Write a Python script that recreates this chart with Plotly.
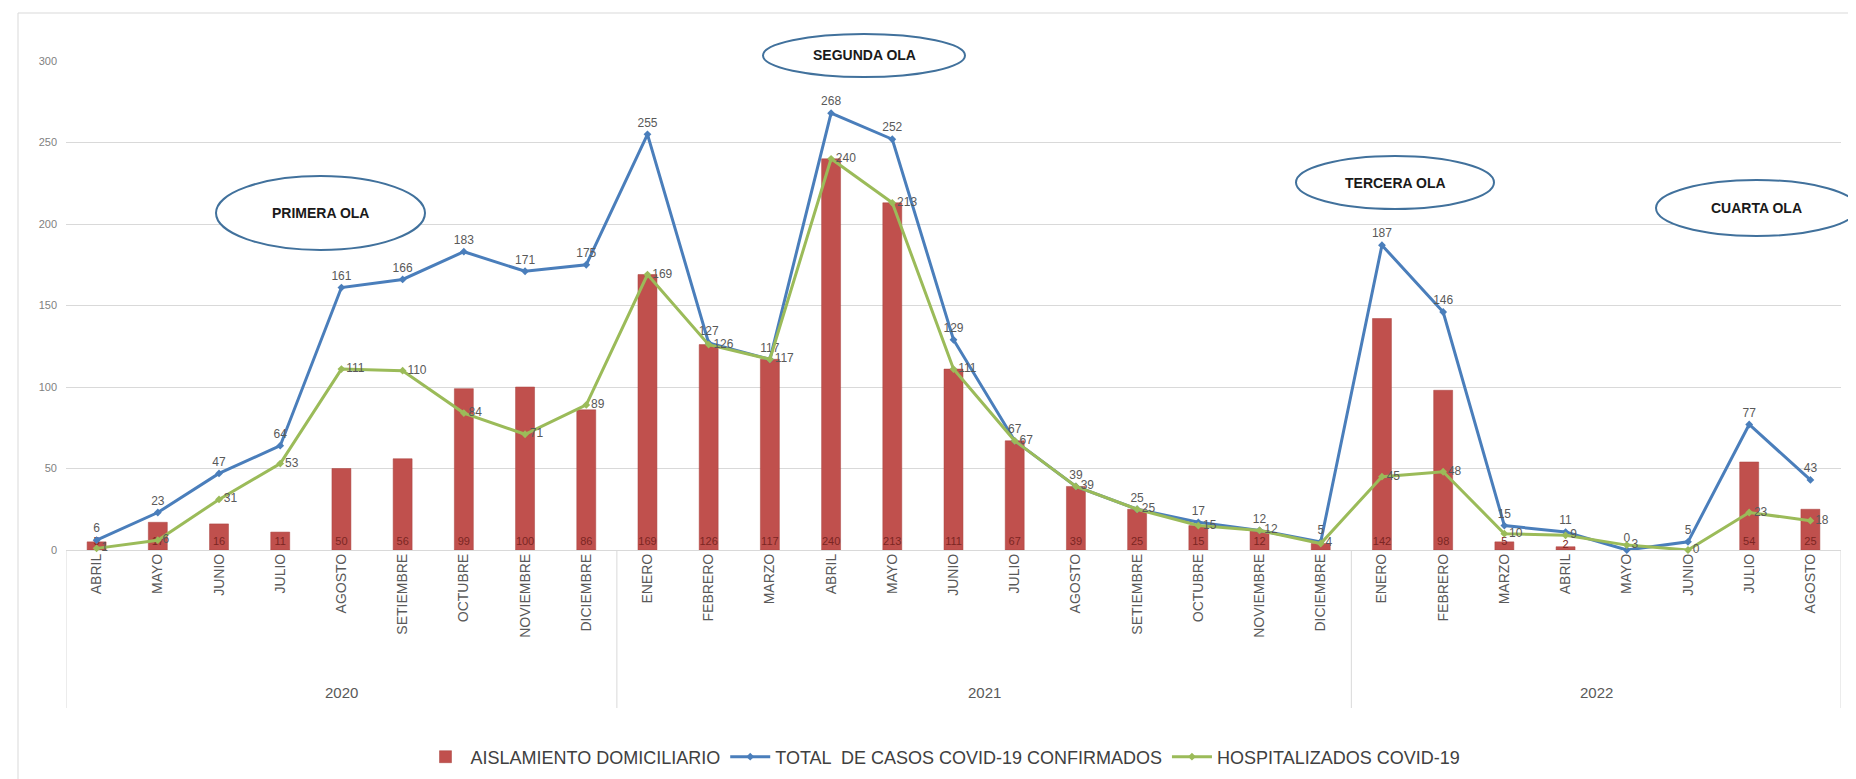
import plotly.graph_objects as go

W, H = 1856, 779
# plot area in pixels
L, R, T, B = 58, 1833, 53, 542

meses = ["ABRIL", "MAYO", "JUNIO", "JULIO", "AGOSTO", "SETIEMBRE", "OCTUBRE", "NOVIEMBRE", "DICIEMBRE",
         "ENERO", "FEBRERO", "MARZO", "ABRIL", "MAYO", "JUNIO", "JULIO", "AGOSTO", "SETIEMBRE",
         "OCTUBRE", "NOVIEMBRE", "DICIEMBRE",
         "ENERO", "FEBRERO", "MARZO", "ABRIL", "MAYO", "JUNIO", "JULIO", "AGOSTO"]
years = ["2020", "2021", "2022"]
year_counts = [9, 12, 8]

aislamiento = [5, 17, 16, 11, 50, 56, 99, 100, 86,
               169, 126, 117, 240, 213, 111, 67, 39, 25, 15, 12, 4,
               142, 98, 5, 2, None, None, 54, 25]
total = [6, 23, 47, 64, 161, 166, 183, 171, 175,
         255, 127, 117, 268, 252, 129, 67, 39, 25, 17, 12, 5,
         187, 146, 15, 11, 0, 5, 77, 43]
hospitalizados = [1, 6, 31, 53, 111, 110, 84, 71, 89,
                  169, 126, 117, 240, 213, 111, 67, 39, 25, 15, 12, 4,
                  45, 48, 10, 9, 3, 0, 23, 18]

olas = ["PRIMERA OLA", "SEGUNDA OLA", "TERCERA OLA", "CUARTA OLA"]

x = list(range(len(meses)))

def px(v):
    return (v - L) / (R - L)

def py(v):
    return (B - v) / (B - T)

fig = go.Figure()

fig.add_trace(go.Bar(
    x=x, y=aislamiento, name="AISLAMIENTO DOMICILIARIO",
    marker=dict(color="#C0504D", line=dict(color="#A8423F", width=0.5)),
    width=0.31,
    text=[("" if v is None else str(v)) for v in aislamiento],
    textposition="inside", insidetextanchor="start", constraintext="none",
    textfont=dict(color="#7B2623", size=11, family="Liberation Sans"),
    textangle=0, cliponaxis=False,
))

fig.add_trace(go.Scatter(
    x=x, y=total, name="TOTAL  DE CASOS COVID-19 CONFIRMADOS",
    mode="lines+markers+text",
    line=dict(color="#4A7EBB", width=3),
    marker=dict(symbol="diamond", size=6, color="#4A7EBB"),
    text=[str(v) for v in total], textposition="top center",
    textfont=dict(color="#595959", size=12, family="Liberation Sans"),
    cliponaxis=False,
))

fig.add_trace(go.Scatter(
    x=x, y=hospitalizados, name="HOSPITALIZADOS COVID-19",
    mode="lines+markers+text",
    line=dict(color="#9BBB59", width=3),
    marker=dict(symbol="diamond", size=6, color="#9BBB59"),
    text=[str(v) for v in hospitalizados], textposition="middle right",
    textfont=dict(color="#595959", size=12, family="Liberation Sans"),
    cliponaxis=False,
))

shapes = []
annotations = []

# outer chart border
shapes.append(dict(type="rect", xref="paper", yref="paper",
                   x0=px(10), x1=px(1850), y0=py(772), y1=py(5),
                   line=dict(color="#D9D9D9", width=1), fillcolor="rgba(0,0,0,0)", layer="below"))

# year separators and labels
start = 0
bounds = [-0.5]
for n in year_counts:
    start += n
    bounds.append(start - 0.5)
for b in bounds:
    shapes.append(dict(type="line", xref="x", yref="paper", x0=b, x1=b,
                       y0=py(B), y1=py(700), line=dict(color="#D9D9D9", width=1)))
for i, yr in enumerate(years):
    c = (bounds[i] + bounds[i + 1]) / 2
    annotations.append(dict(xref="x", yref="paper", x=c, y=py(684), text=yr, showarrow=False,
                            font=dict(size=15, color="#595959", family="Liberation Sans Narrow, Liberation Sans"),
                            xanchor="center", yanchor="middle"))

# wave ellipses (pixel boxes)
ellipse_boxes = [(208, 168, 417, 242), (755, 26, 957, 69), (1288, 148, 1486, 201), (1648, 172, 1849, 228)]
for (x0, y0, x1, y1), name in zip(ellipse_boxes, olas):
    shapes.append(dict(type="circle", xref="paper", yref="paper",
                       x0=px(x0), x1=px(x1), y0=py(y1), y1=py(y0),
                       line=dict(color="#41719C", width=2), fillcolor="white", layer="above"))
    annotations.append(dict(xref="paper", yref="paper", x=px((x0 + x1) / 2), y=py((y0 + y1) / 2),
                            text="<b>" + name + "</b>", showarrow=False,
                            font=dict(size=14, color="#1a1a1a", family="Liberation Sans Narrow, Liberation Sans"),
                            xanchor="center", yanchor="middle"))

fig.update_layout(
    width=W, height=H,
    margin=dict(l=L, r=W - R, t=T, b=H - B),
    paper_bgcolor="white", plot_bgcolor="white",
    barmode="overlay",
    showlegend=True,
    legend=dict(orientation="h", x=px(935), y=py(749), xanchor="center", yanchor="middle",
                font=dict(size=18, color="#404040", family="Liberation Sans Narrow, Liberation Sans"),
                itemwidth=40, tracegroupgap=0),
    xaxis=dict(
        range=[-0.5, len(meses) - 0.5],
        tickmode="array", tickvals=x, ticktext=meses, tickangle=-90,
        tickfont=dict(size=14, color="#595959", family="Liberation Sans"),
        showgrid=False, zeroline=False, showline=False, ticks="",
    ),
    yaxis=dict(
        range=[0, 300], tickvals=[0, 50, 100, 150, 200, 250, 300],
        tickfont=dict(size=11, color="#7F7F7F", family="Liberation Sans"),
        showgrid=True, gridcolor="#D9D9D9", gridwidth=1,
        zeroline=True, zerolinecolor="#D9D9D9", zerolinewidth=1,
        showline=False, ticks="", ticklabelstandoff=8,
    ),
    shapes=shapes,
    annotations=annotations,
)

fig.write_html("out.html")
